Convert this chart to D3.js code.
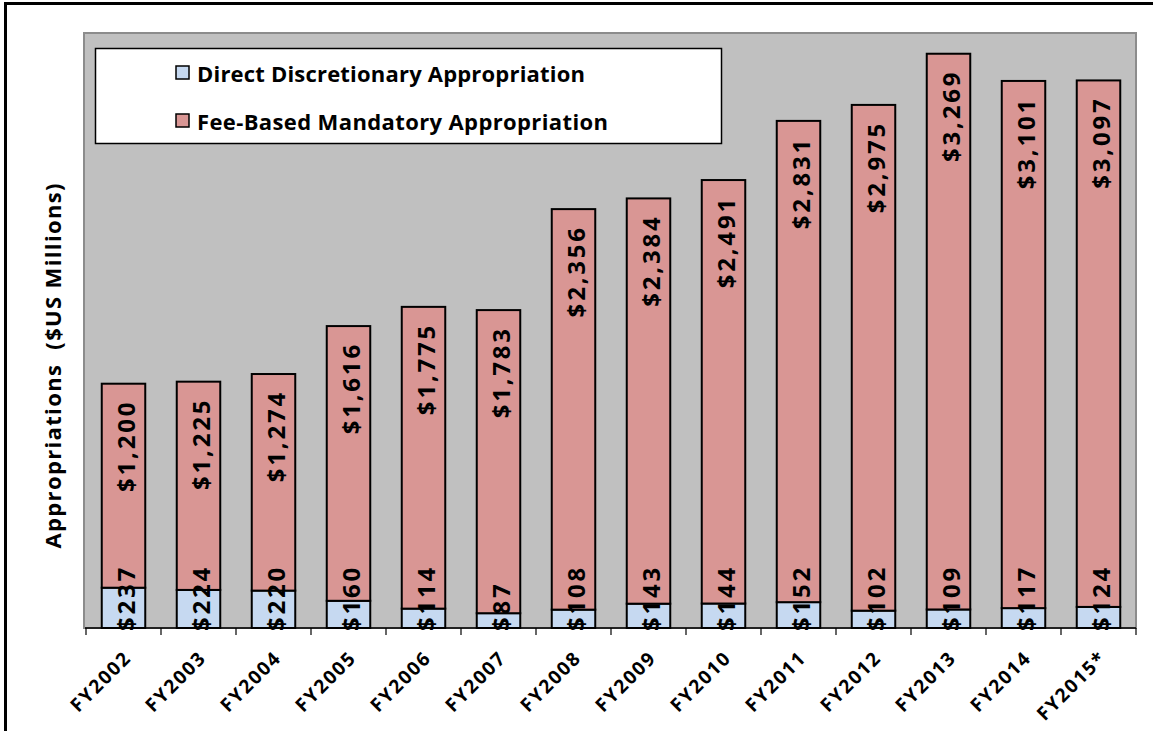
<!DOCTYPE html>
<html>
<head>
<meta charset="utf-8">
<script src="https://cdn.jsdelivr.net/npm/d3@7"></script>
<style>
  body { margin: 0; background: #fff; }
  svg { display: block; font-family: "Open Sans", Lato, sans-serif; font-weight: bold; }
  text { white-space: pre; }
</style>
</head>
<body>
<div id="chart"></div>
<script>
// Fiscal years and the two stacked series ($US millions)
const years = ["FY2002", "FY2003", "FY2004", "FY2005", "FY2006", "FY2007", "FY2008",
  "FY2009", "FY2010", "FY2011", "FY2012", "FY2013", "FY2014", "FY2015*"];
const discretionary = [237, 224, 220, 160, 114, 87, 108, 143, 144, 152, 102, 109, 117, 124];
const mandatory = [1200, 1225, 1274, 1616, 1775, 1783, 2356, 2384, 2491, 2831, 2975, 3269, 3101, 3097];
const seriesNames = ["Direct Discretionary Appropriation", "Fee-Based Mandatory Appropriation"];

const colors = { disc: "#c6d9f1", mand: "#d99694" };
const W = 1153, H = 731;
const plot = { left: 85, right: 1136, top: 33, bottom: 628 };

const svg = d3.select("#chart").append("svg")
  .attr("width", W)
  .attr("height", H);

// outer frame (only top and left edges show in the picture)
svg.append("rect")
  .attr("x", 5.5).attr("y", 3.5)
  .attr("width", W + 20).attr("height", H + 20)
  .attr("fill", "none")
  .attr("stroke", "#000")
  .attr("stroke-width", 3);

// plot area
svg.append("rect")
  .attr("x", plot.left - 1).attr("y", plot.top)
  .attr("width", plot.right - plot.left + 1).attr("height", plot.bottom - plot.top)
  .attr("fill", "#c0c0c0")
  .attr("stroke", "#8c8c8c")
  .attr("stroke-width", 2);

const x = d3.scaleBand()
  .domain(years)
  .range([plot.left + 1, plot.right])
  .paddingInner(0.42)
  .paddingOuter(0.21);

const y = d3.scaleLinear()
  .domain([0, 3500])
  .range([plot.bottom, plot.top]);

const rows = years.map((yr, i) => ({ yr, disc: discretionary[i], mand: mandatory[i] }));

// stacked bars
const g = svg.append("g");
g.selectAll(".disc").data(rows).join("rect")
  .attr("class", "disc")
  .attr("x", d => x(d.yr))
  .attr("width", x.bandwidth())
  .attr("y", d => y(d.disc))
  .attr("height", d => y(0) - y(d.disc))
  .attr("fill", colors.disc)
  .attr("stroke", "#000")
  .attr("stroke-width", 2);

g.selectAll(".mand").data(rows).join("rect")
  .attr("class", "mand")
  .attr("x", d => x(d.yr))
  .attr("width", x.bandwidth())
  .attr("y", d => y(d.disc + d.mand))
  .attr("height", d => y(d.disc) - y(d.disc + d.mand))
  .attr("fill", colors.mand)
  .attr("stroke", "#000")
  .attr("stroke-width", 2);

// value labels, rotated
const fmt = v => "$" + d3.format(",")(v);
const labelStyle = sel => sel
  .attr("font-size", 24)
  .attr("letter-spacing", 2.8)
  .attr("dominant-baseline", "central")
  .attr("fill", "#000");

g.selectAll(".mlab").data(rows).join("text")
  .attr("class", "mlab")
  .attr("transform", d => `translate(${x(d.yr) + x.bandwidth() / 2 + 2},${y(d.disc + d.mand) + 16}) rotate(-90)`)
  .attr("text-anchor", "end")
  .text(d => fmt(d.mand))
  .call(labelStyle);

g.selectAll(".dlab").data(rows).join("text")
  .attr("class", "dlab")
  .attr("transform", d => `translate(${x(d.yr) + x.bandwidth() / 2 + 2},${y(0) + 3}) rotate(-90)`)
  .attr("text-anchor", "start")
  .text(d => fmt(d.disc))
  .call(labelStyle);

// x axis: ticks between categories
const xAxis = svg.append("g")
  .attr("transform", `translate(0,${plot.bottom})`);
xAxis.append("line")
  .attr("x1", plot.left).attr("x2", plot.right)
  .attr("stroke", "#000").attr("stroke-width", 1.5);
const bounds = years.map(yr => x(yr) - x.step() * x.paddingInner() / 2).concat([plot.right]);
xAxis.selectAll(".tk").data(bounds).join("line")
  .attr("x1", d => d).attr("x2", d => d)
  .attr("y1", 0).attr("y2", 7)
  .attr("stroke", "#000").attr("stroke-width", 1.2);

xAxis.selectAll(".xl").data(years).join("text")
  .attr("transform", d => `translate(${x(d) + x.bandwidth() / 2 + 9},${31}) rotate(-45)`)
  .attr("text-anchor", "end")
  .attr("font-size", 19)
  .attr("letter-spacing", 1.8)
  .attr("fill", "#000")
  .text(d => d);

// y axis title
svg.append("text")
  .attr("transform", `translate(52,${366}) rotate(-90)`)
  .attr("text-anchor", "middle")
  .attr("dominant-baseline", "central")
  .attr("font-size", 22)
  .attr("textLength", 365)
  .attr("lengthAdjust", "spacing")
  .attr("fill", "#000")
  .text("Appropriations  ($US Millions)");

// legend
const legend = svg.append("g");
legend.append("rect")
  .attr("x", 95.5).attr("y", 48.5)
  .attr("width", 626).attr("height", 95)
  .attr("fill", "#fff")
  .attr("stroke", "#000")
  .attr("stroke-width", 1.5);
const legendItems = legend.selectAll(".li").data(seriesNames).join("g")
  .attr("transform", (d, i) => `translate(176,${66 + i * 48})`);
legendItems.append("rect")
  .attr("width", 13).attr("height", 13)
  .attr("fill", (d, i) => i === 0 ? colors.disc : colors.mand)
  .attr("stroke", "#000")
  .attr("stroke-width", 1.5);
legendItems.append("text")
  .attr("x", 21).attr("y", 7)
  .attr("dominant-baseline", "central")
  .attr("font-size", 22)
  .attr("textLength", (d, i) => i === 0 ? 388 : 411)
  .attr("lengthAdjust", "spacing")
  .attr("fill", "#000")
  .text(d => d);
</script>
</body>
</html>
